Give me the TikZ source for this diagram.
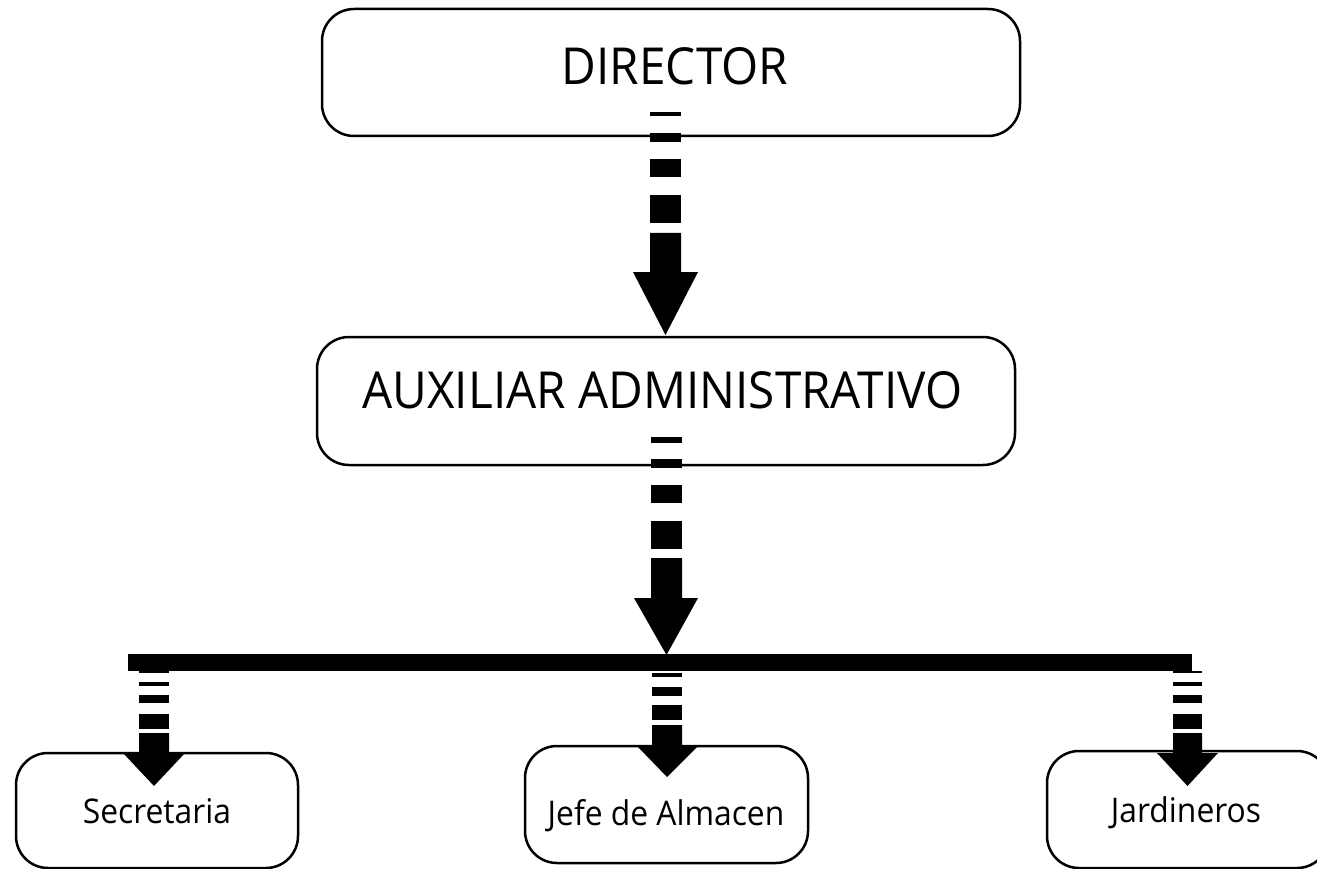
\documentclass[tikz,border=0pt]{standalone}
\usepackage{fontspec}
\setmainfont[FakeStretch=0.935]{Open Sans}
\usetikzlibrary{calc}
\tikzset{
  box/.style={draw=black, line width=2.5pt, rounded corners=32pt, fill=white, inner sep=0pt},
  bigtxt/.style={anchor=base, inner sep=0pt, font=\fontsize{51}{60}\selectfont},
  smalltxt/.style={anchor=base, inner sep=0pt, font=\fontsize{34}{40}\selectfont},
  ink/.style={fill=black, draw=none}
}
\begin{document}
\begin{tikzpicture}[x=1pt,y=-1pt]
\clip (0,0) rectangle (1317,869);
\fill[white] (0,0) rectangle (1317,869);
% boxes
\node[box, minimum width=698, minimum height=127] (dir) at (671,72.5) {};
\node[box, minimum width=698, minimum height=128] (aux) at (666,401) {};
\node[box, minimum width=282, minimum height=115] (sec) at (157,810.5) {};
\node[box, minimum width=283, minimum height=117] (jef) at (666.5,804.5) {};
\node[box, minimum width=282, minimum height=117] (jar) at (1188,809.5) {};
% texts
\node[bigtxt] (tdir) at (675,85) {DIRECTOR};
\node[bigtxt] (taux) at (662.5,408) {AUXILIAR ADMINISTRATIVO};
\node[smalltxt] (tsec) at (157,823) {Secretaria};
\node[smalltxt] (tjef) at (666,825) {Jefe de Almacen};
\node[smalltxt] (tjar) at (1186,822) {Jardineros};
% arrow director -> auxiliar
\fill[ink] (650,112) rectangle (681,116);
\fill[ink] (650,133) rectangle (681,142);
\fill[ink] (650,159) rectangle (681,177);
\fill[ink] (650,195) rectangle (681,223);
\fill[ink] (650,233) -- (681,233) -- (681,272) -- (698,272) -- (665.5,335) -- (633,272) -- (650,272) -- cycle;
% arrow auxiliar -> bar
\fill[ink] (651,437) rectangle (682,443);
\fill[ink] (651,459) rectangle (682,468);
\fill[ink] (651,485) rectangle (682,503);
\fill[ink] (651,521) rectangle (682,549);
\fill[ink] (651,558) -- (682,558) -- (682,598) -- (698,598) -- (666.5,655) -- (634,598) -- (651,598) -- cycle;
% bar
\fill[ink] (128,654) rectangle (1192,671);
% arrow to secretaria
\fill[ink] (139,671) rectangle (169,673);
\fill[ink] (139,682) rectangle (169,686);
\fill[ink] (139,695) rectangle (169,703);
\fill[ink] (139,714) rectangle (169,729);
\fill[ink] (139,733) -- (169,733) -- (169,753) -- (185,753) -- (154,786) -- (123,753) -- (139,753) -- cycle;
% arrow to jefe
\fill[ink] (652,673) rectangle (682,677);
\fill[ink] (652,687) rectangle (682,696);
\fill[ink] (652,705) rectangle (682,720);
\fill[ink] (652,725) -- (682,725) -- (682,747) -- (697,747) -- (667,777) -- (638,747) -- (652,747) -- cycle;
% arrow to jardineros
\fill[ink] (1173,671) rectangle (1202,673);
\fill[ink] (1173,682) rectangle (1202,686);
\fill[ink] (1173,695) rectangle (1202,703);
\fill[ink] (1173,714) rectangle (1202,729);
\fill[ink] (1173,733) -- (1202,733) -- (1202,753) -- (1218,753) -- (1187.5,786) -- (1157,753) -- (1173,753) -- cycle;
\end{tikzpicture}
\end{document}
